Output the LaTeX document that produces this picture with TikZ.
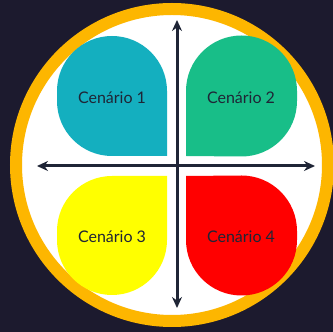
\documentclass[tikz,border=0pt]{standalone}
\usepackage{fontspec}
\setmainfont{Lato}
\usetikzlibrary{arrows.meta}

\definecolor{navy}{HTML}{1C1A2E}
\definecolor{ink}{HTML}{1F2536}
\definecolor{ring}{HTML}{FDB600}
\definecolor{teal1}{HTML}{14AFBF}
\definecolor{green2}{HTML}{18BE88}
\definecolor{yellow3}{HTML}{FFFF00}
\definecolor{red4}{HTML}{FF0000}

\begin{document}
\begin{tikzpicture}[x=1pt, y=1pt,
    label/.style={text=ink, font=\fontsize{16}{18}\selectfont},
    axis/.style={ink, line width=3pt, {Stealth[length=11pt, width=10pt]}-{Stealth[length=11pt, width=10pt]}}]
    \useasboundingbox (0, 0) rectangle (333, 332);
    \fill[navy] (0, 0) rectangle (333, 332);

    % ring
    \draw[ring, fill=white, line width=12pt] (172, 167) circle[radius=156];

    % four petals
    \fill[teal1] (167, 176) -- (167, 241) arc[start angle=0, end angle=180, radius=55]
        -- (57, 231) arc[start angle=180, end angle=270, radius=55] -- cycle;
    \fill[green2] (186, 176) -- (186, 241) arc[start angle=180, end angle=0, radius=55.5]
        -- (297, 231) arc[start angle=0, end angle=-90, radius=55.5] -- cycle;
    \fill[yellow3] (167, 156) -- (167, 92) arc[start angle=0, end angle=-180, radius=55]
        -- (57, 101) arc[start angle=180, end angle=90, radius=55] -- cycle;
    \fill[red4] (186, 156) -- (186, 92) arc[start angle=180, end angle=360, radius=55.5]
        -- (297, 101) arc[start angle=0, end angle=90, radius=55.5] -- cycle;

    \node[label] (c1) at (112, 234) {Cenário 1};
    \node[label] (c2) at (241, 234) {Cenário 2};
    \node[label] (c3) at (112, 95) {Cenário 3};
    \node[label] (c4) at (241, 95) {Cenário 4};

    % axes
    \coordinate (top) at (177, 312);
    \coordinate (bottom) at (177, 24);
    \coordinate (left) at (37, 166);
    \coordinate (right) at (315, 166);
    \draw[axis] (bottom) -- (top);
    \draw[axis] (left) -- (right);
\end{tikzpicture}
\end{document}
